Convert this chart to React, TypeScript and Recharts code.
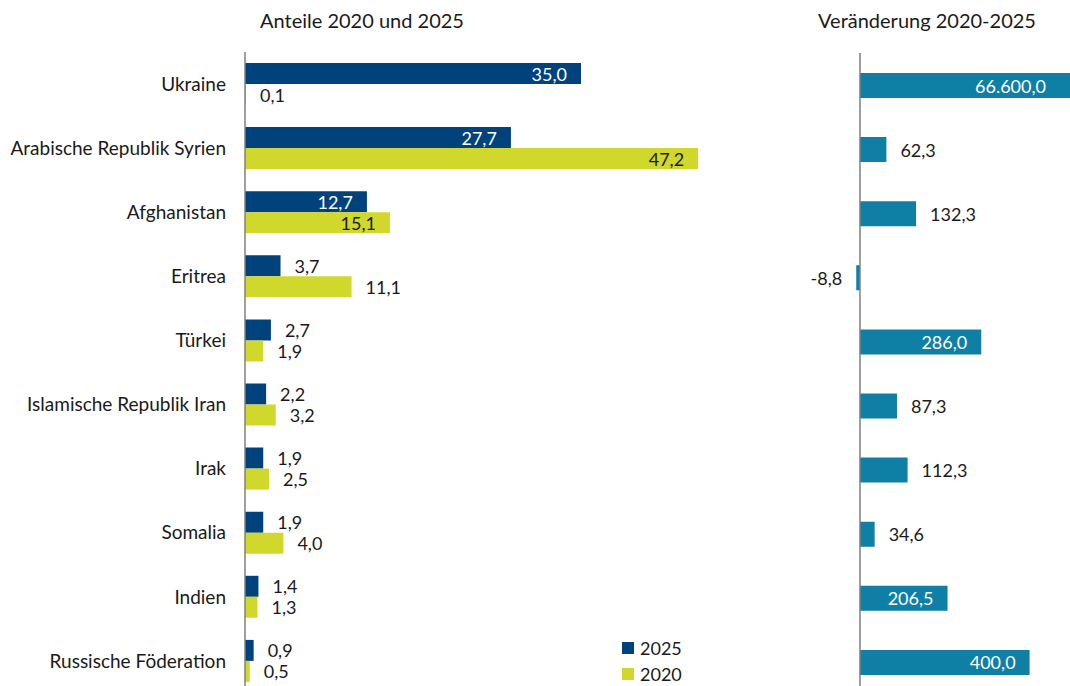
import React from 'react';
import { BarChart, Bar, XAxis, YAxis, LabelList, Legend, ReferenceLine } from 'recharts';

const countries = [
  'Ukraine',
  'Arabische Republik Syrien',
  'Afghanistan',
  'Eritrea',
  'Türkei',
  'Islamische Republik Iran',
  'Irak',
  'Somalia',
  'Indien',
  'Russische Föderation',
];
const share2025 = [35.0, 27.7, 12.7, 3.7, 2.7, 2.2, 1.9, 1.9, 1.4, 0.9];
const share2020 = [0.1, 47.2, 15.1, 11.1, 1.9, 3.2, 2.5, 4.0, 1.3, 0.5];
const change = [66600.0, 62.3, 132.3, -8.8, 286.0, 87.3, 112.3, 34.6, 206.5, 400.0];
const legendOrder = ['2025', '2020'];

const NAVY = '#00427c';
const LIME = '#d0d82c';
const TEAL = '#0f7fa6';
const TEXT = '#1a1a1a';
const AXIS = '#7f7f7f';
const FONT = 'Lato, "Noto Sans", sans-serif';
const FS = 18;
const TICK_FS = 19;

const RIGHT_W = 292;

const shareData = countries.map((c, i) => ({ country: c, y2025: share2025[i], y2020: share2020[i] }));
const changeData = countries.map((c, i) => ({ country: c, change: change[i] }));

// german number format, one decimal
function fmt(v: number) {
  const neg = v < 0;
  const [int, dec] = Math.abs(v).toFixed(1).split('.');
  const withDots = int.replace(/\B(?=(\d{3})+(?!\d))/g, '.');
  return (neg ? '-' : '') + withDots + ',' + dec;
}

function makeLabel(threshold: number, insideColor: string, maxEnd?: number) {
  return (props: any) => {
    const { x, y, width, height, value } = props;
    const v = Number(value);
    const cy = Number(y) + Number(height) / 2;
    if (v < 0) {
      const left = Math.min(Number(x), Number(x) + Number(width));
      return (
        <text x={left - 14} y={cy} textAnchor="end" dominantBaseline="central" fill={TEXT} fontSize={FS}>
          {fmt(v)}
        </text>
      );
    }
    let end = Number(x) + Number(width);
    if (maxEnd !== undefined) end = Math.min(end, maxEnd);
    if (v > threshold) {
      return (
        <text x={end - 14} y={cy} textAnchor="end" dominantBaseline="central" fill={insideColor} fontSize={FS}>
          {fmt(v)}
        </text>
      );
    }
    return (
      <text x={end + 14} y={cy} textAnchor="start" dominantBaseline="central" fill={TEXT} fontSize={FS}>
        {fmt(v)}
      </text>
    );
  };
}

const renderLegend = (props: any) => {
  const items = [...(props.payload || [])].sort(
    (a: any, b: any) => legendOrder.indexOf(a.value) - legendOrder.indexOf(b.value)
  );
  return (
    <div>
      {items.map((p: any) => (
        <div key={p.value} style={{ display: 'flex', alignItems: 'center', height: 26, fontSize: FS, color: TEXT }}>
          <span style={{ width: 12, height: 12, background: p.color, display: 'inline-block', marginRight: 6 }} />
          {p.value}
        </div>
      ))}
    </div>
  );
};

export default function App() {
  return (
    <div
      style={{
        position: 'absolute',
        left: 0,
        top: 0,
        width: 1070,
        height: 686,
        overflow: 'hidden',
        background: '#fff',
        fontFamily: FONT,
        color: TEXT,
      }}
    >
      <div style={{ position: 'absolute', left: 212, width: 300, top: 8, textAlign: 'center', fontSize: 20, whiteSpace: 'nowrap' }}>
        Anteile 2020 und 2025
      </div>
      <div style={{ position: 'absolute', left: 777, width: 300, top: 8, textAlign: 'center', fontSize: 20, whiteSpace: 'nowrap' }}>
        Veränderung 2020-2025
      </div>

      <div style={{ position: 'absolute', left: 0, top: 0 }}>
        <BarChart
          width={760}
          height={700}
          data={shareData}
          layout="vertical"
          margin={{ top: 52, right: 35, bottom: 7, left: 0 }}
          barGap={0}
        >
          <XAxis type="number" domain={[0, 50]} hide />
          <YAxis
            type="category"
            dataKey="country"
            width={245}
            tickLine={false}
            tickMargin={13}
            axisLine={{ stroke: AXIS, strokeWidth: 1.5 }}
            tick={{ fill: TEXT, fontSize: TICK_FS }}
            interval={0}
          />
          <Legend
            layout="vertical"
            align="center"
            verticalAlign="middle"
            content={renderLegend}
            wrapperStyle={{ position: 'absolute', left: 622, top: 635, width: 80 }}
          />
          <Bar dataKey="y2025" name="2025" fill={NAVY} barSize={21} isAnimationActive={false}>
            <LabelList dataKey="y2025" content={makeLabel(12, '#ffffff')} />
          </Bar>
          <Bar dataKey="y2020" name="2020" fill={LIME} barSize={21} isAnimationActive={false}>
            <LabelList dataKey="y2020" content={makeLabel(12, TEXT)} />
          </Bar>
        </BarChart>
      </div>

      <div style={{ position: 'absolute', left: 780, top: 0 }}>
        <BarChart
          width={RIGHT_W}
          height={700}
          data={changeData}
          layout="vertical"
          margin={{ top: 53, right: 0, bottom: 6, left: 71.5 }}
        >
          <XAxis type="number" domain={[-20, 500]} allowDataOverflow hide />
          <YAxis type="category" dataKey="country" hide />
          <Bar dataKey="change" fill={TEAL} barSize={25} isAnimationActive={false}>
            <LabelList dataKey="change" content={makeLabel(200, '#ffffff', RIGHT_W - 12)} />
          </Bar>
          <ReferenceLine x={0} stroke={AXIS} strokeWidth={1.5} />
        </BarChart>
      </div>
    </div>
  );
}
